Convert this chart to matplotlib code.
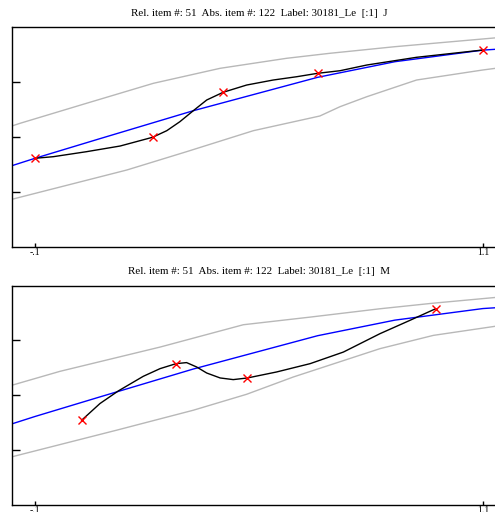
import matplotlib
matplotlib.use("Agg")
import matplotlib.pyplot as plt

plt.rcParams['font.family'] = ['Liberation Serif', 'DejaVu Serif']

titles = [
    "Rel. item #: 51  Abs. item #: 122  Label: 30181_Le  [:1]  J",
    "Rel. item #: 51  Abs. item #: 122  Label: 30181_Le  [:1]  M",
]
xtick_vals = [-0.1, 1.1]
xtick_labels = ["-.1", "1.1"]
ytick_vals = [1, 2, 3]

# shared mean track (blue)
mean_x = [-0.162, -0.1, 0.074, 0.324, 0.476, 0.657, 0.864, 1.1, 1.146]
mean_y = [1.478, 1.613, 1.97, 2.478, 2.755, 3.085, 3.369, 3.58, 3.60]

# panel J
j_pts_x = [-0.1, 0.215, 0.404, 0.657, 1.1]
j_pts_y = [1.61, 2.0, 2.81, 3.16, 3.58]
j_curve_x = [-0.1, -0.051, 0.038, 0.128, 0.215, 0.253, 0.288, 0.324, 0.36, 0.404,
             0.467, 0.538, 0.601, 0.657, 0.717, 0.789, 0.922, 1.1]
j_curve_y = [1.613, 1.642, 1.733, 1.836, 1.995, 2.115, 2.278, 2.478, 2.673, 2.813,
             2.945, 3.036, 3.096, 3.158, 3.205, 3.309, 3.449, 3.582]
j_upper_x = [-0.162, -0.14, 0.038, 0.217, 0.396, 0.574, 0.69, 0.864, 1.146]
j_upper_y = [2.2, 2.249, 2.613, 2.976, 3.249, 3.431, 3.522, 3.642, 3.81]
j_lower_x = [-0.162, 0.146, 0.306, 0.485, 0.663, 0.717, 0.789, 0.922, 1.099, 1.146]
j_lower_y = [0.867, 1.4, 1.733, 2.115, 2.382, 2.551, 2.733, 3.036, 3.218, 3.26]

# panel M
m_pts_x = [0.025, 0.278, 0.469, 0.973]
m_pts_y = [1.545, 2.576, 2.315, 3.576]
m_curve_x = [0.025, 0.074, 0.123, 0.19, 0.235, 0.278, 0.306, 0.333, 0.36, 0.396,
             0.431, 0.469, 0.547, 0.637, 0.726, 0.824, 0.904, 0.973]
m_curve_y = [1.545, 1.849, 2.078, 2.345, 2.485, 2.576, 2.595, 2.515, 2.405, 2.315,
             2.285, 2.315, 2.424, 2.576, 2.787, 3.122, 3.364, 3.576]
m_upper_x = [-0.162, -0.033, 0.235, 0.458, 0.637, 0.824, 0.967, 1.146]
m_upper_y = [2.182, 2.436, 2.878, 3.285, 3.424, 3.576, 3.678, 3.79]
m_lower_x = [-0.162, 0.119, 0.324, 0.467, 0.592, 0.824, 0.967, 1.146]
m_lower_y = [0.878, 1.364, 1.727, 2.018, 2.333, 2.849, 3.091, 3.27]

panels = [
    (titles[0], j_pts_x, j_pts_y, j_curve_x, j_curve_y, j_upper_x, j_upper_y, j_lower_x, j_lower_y),
    (titles[1], m_pts_x, m_pts_y, m_curve_x, m_curve_y, m_upper_x, m_upper_y, m_lower_x, m_lower_y),
]

W, H = 495, 512
fig = plt.figure(figsize=(W / 100, H / 100), dpi=100)

axes_px = [(12, 27, 247), (12, 285.5, 505)]  # left, top, bottom in pixels
right_px = 500

for (left, top, bottom), panel in zip(axes_px, panels):
    title, px, py, cx, cy, ux, uy, lx, ly = panel
    ax = fig.add_axes([left / W, (H - bottom) / H, (right_px - left) / W, (bottom - top) / H])

    ax.plot(ux, uy, color='#b8b8b8', lw=1.0)
    ax.plot(lx, ly, color='#b8b8b8', lw=1.0)
    ax.plot(mean_x, mean_y, color='#0000ff', lw=1.0)
    ax.plot(cx, cy, color='black', lw=1.0)
    ax.plot(px, py, 'x', color='#ff0000', ms=6, mew=1.0)

    # pixel 35 -> -0.1, pixel 483 -> 1.1
    scale = (483 - 35) / 1.2
    ax.set_xlim(-0.1 - (35 - left) / scale, 1.1 + (right_px - 483) / scale)
    ax.set_ylim(0, 4)

    ax.set_xticks(xtick_vals)
    ax.set_xticklabels(xtick_labels, fontsize=7)
    ax.set_yticks(ytick_vals)
    ax.set_yticklabels([])
    ax.tick_params(axis='y', direction='in', length=6, width=1)
    ax.tick_params(axis='x', direction='in', length=3, width=1, pad=1)

    for side in ['left', 'top', 'bottom']:
        ax.spines[side].set_linewidth(1.0)
        ax.spines[side].set_color('black')
    ax.spines['right'].set_visible(False)

    fig.text(259 / W, 1 - (top - 14) / H, title, fontsize=7.9,
             ha='center', va='center')

fig.savefig('out.png', dpi=100)
